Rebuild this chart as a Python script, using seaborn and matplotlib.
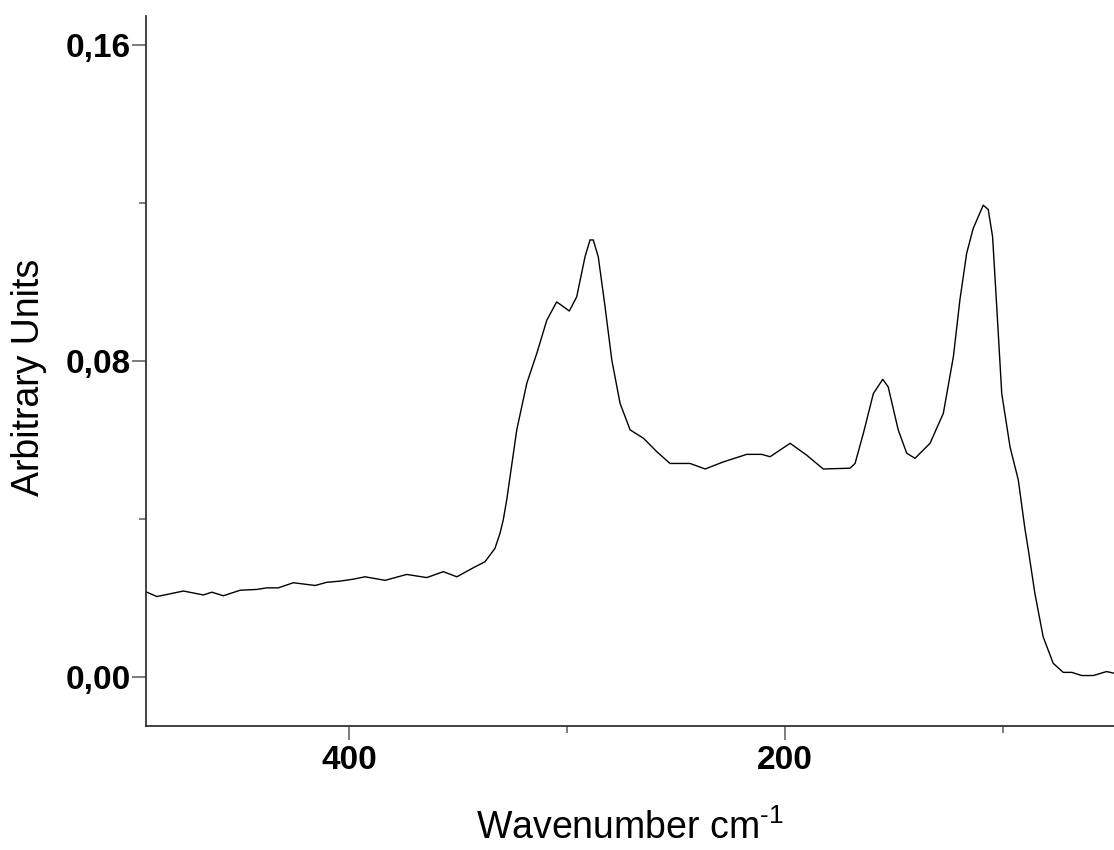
import matplotlib
matplotlib.use("Agg")
import matplotlib.pyplot as plt
import seaborn as sns
import pandas as pd
from matplotlib.ticker import FixedLocator, FixedFormatter

sns.set_theme(style="white")
plt.rcParams['font.family'] = ['Liberation Sans', 'DejaVu Sans']
plt.rcParams['mathtext.fontset'] = 'custom'
plt.rcParams['mathtext.rm'] = 'Liberation Sans'
plt.rcParams['mathtext.it'] = 'Liberation Sans:italic'
plt.rcParams['mathtext.bf'] = 'Liberation Sans:bold'

wavenumber = [493.3, 488.3, 476.1, 467.0, 463.1, 457.8, 450.1, 442.5, 437.9, 432.6,
              425.7, 415.7, 410.4, 404.3, 398.2, 392.8, 383.6, 373.7, 364.5, 356.9,
              350.7, 343.1, 337.8, 333.2, 330.9, 329.4, 327.8, 323.2, 318.6, 314.0,
              309.4, 304.9, 301.8, 299.1, 295.7, 291.9, 289.6, 288.1, 285.8, 282.7,
              279.6, 275.8, 271.2, 265.1, 259.0, 252.9, 243.7, 236.8, 228.4, 217.7,
              210.8, 207.0, 197.8, 190.2, 182.6, 170.3, 168.0, 164.2, 159.6, 155.3,
              152.8, 148.2, 144.3, 140.5, 133.6, 127.5, 122.9, 119.9, 116.8, 113.8,
              109.2, 106.9, 104.9, 103.0, 100.7, 96.9, 93.1, 90.1, 88.5, 85.5,
              81.7, 77.1, 72.5, 68.6, 64.0, 58.7, 52.6, 49.2]
intensity = [0.0215, 0.0203, 0.0217, 0.0207, 0.0214, 0.0205, 0.0219, 0.0221, 0.0225, 0.0225,
             0.0238, 0.0231, 0.0239, 0.0242, 0.0247, 0.0253, 0.0244, 0.0259, 0.0251, 0.0266,
             0.0253, 0.0276, 0.0291, 0.0325, 0.0363, 0.0397, 0.0448, 0.0625, 0.0743, 0.0819,
             0.0903, 0.0949, 0.0937, 0.0926, 0.0962, 0.1063, 0.1106, 0.1106, 0.1063, 0.0937,
             0.0802, 0.0692, 0.0625, 0.0604, 0.0570, 0.0540, 0.0540, 0.0526, 0.0544, 0.0563,
             0.0563, 0.0557, 0.0591, 0.0561, 0.0526, 0.0528, 0.0540, 0.0616, 0.0717, 0.0753,
             0.0734, 0.0625, 0.0566, 0.0553, 0.0591, 0.0667, 0.0810, 0.0954, 0.1072, 0.1135,
             0.1194, 0.1183, 0.1114, 0.0937, 0.0717, 0.0582, 0.0498, 0.0376, 0.0321, 0.0211,
             0.0101, 0.0034, 0.0011, 0.0011, 0.0003, 0.0003, 0.0013, 0.0009]

x_major = [400, 200]
x_major_labels = ["400", "200"]
x_minor = [300, 100]
y_major = [0.00, 0.08, 0.16]
y_major_labels = ["0,00", "0,08", "0,16"]
y_minor = [0.04, 0.12]

df = pd.DataFrame({"wavenumber": wavenumber, "intensity": intensity})

fig = plt.figure(figsize=(11.14, 8.5), dpi=100)
ax = fig.add_axes([146/1114, (850-726)/850, (1114-146)/1114, (726-16)/850])
sns.lineplot(data=df, x="wavenumber", y="intensity", ax=ax, color="black",
             linewidth=1.0, sort=False, estimator=None)

ax.set_xlim(493.3, 49.2)
ax.set_ylim(-0.01248, 0.1673)

for s in ["top", "right"]:
    ax.spines[s].set_visible(False)
for s in ["left", "bottom"]:
    ax.spines[s].set_color("#333333")
    ax.spines[s].set_linewidth(1.3)

ax.xaxis.set_major_locator(FixedLocator(x_major))
ax.xaxis.set_major_formatter(FixedFormatter(x_major_labels))
ax.xaxis.set_minor_locator(FixedLocator(x_minor))
ax.yaxis.set_major_locator(FixedLocator(y_major))
ax.yaxis.set_major_formatter(FixedFormatter(y_major_labels))
ax.yaxis.set_minor_locator(FixedLocator(y_minor))

ax.tick_params(axis="both", which="major", direction="out", length=10, width=1.2,
               color="#666666", labelsize=24, labelcolor="black", bottom=True, left=True)
ax.tick_params(axis="both", which="minor", direction="out", length=5, width=1.2,
               color="#666666", bottom=True, left=True)
ax.tick_params(axis="x", which="major", pad=4)
ax.tick_params(axis="y", which="major", pad=1)
for lab in ax.get_xticklabels() + ax.get_yticklabels():
    lab.set_fontweight("bold")

ax.set_xlabel(r"Wavenumber cm$^{\text{-1}}$", fontsize=27, color="black", va="center")
ax.set_ylabel("Arbitrary Units", fontsize=27, color="black", va="center")
ax.xaxis.set_label_coords(0.5, (726-828)/710)
ax.yaxis.set_label_coords((29-146)/968, (726-377)/710)
ax.grid(False)

fig.savefig("out.png", dpi=100, facecolor="white")
